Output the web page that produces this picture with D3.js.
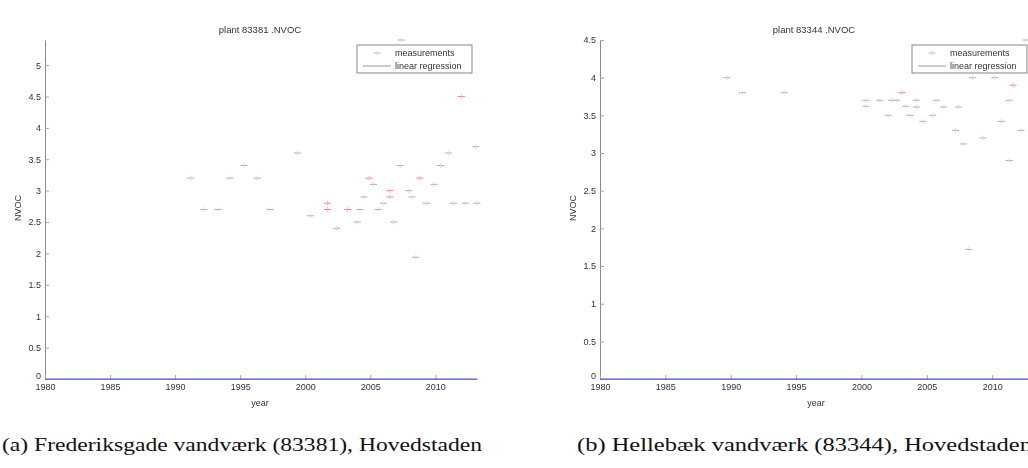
<!DOCTYPE html>
<html>
<head>
<meta charset="utf-8">
<script src="https://cdn.jsdelivr.net/npm/d3@7"></script>
<style>
  html, body { margin: 0; padding: 0; background: #fff; }
  svg { display: block; }
  .tick text { font-family: Arial, "Liberation Sans", sans-serif; }
</style>
</head>
<body>
<svg id="fig" width="1028" height="468"></svg>
<script>
// ---- Plant 83381 (Frederiksgade vandværk) ----
const plantA_years = [1991.2, 1992.2, 1993.3, 1994.2, 1995.3, 1996.3, 1997.3, 1999.4, 2000.4, 2002.4,
  2004.0, 2004.2, 2004.5, 2005.25, 2005.6, 2006.0, 2006.8, 2007.3, 2007.4, 2007.95, 2008.2, 2008.5,
  2009.3, 2009.9, 2010.4, 2011.0, 2011.4, 2012.3, 2013.1, 2013.2];
const plantA_values = [3.2, 2.7, 2.7, 3.2, 3.4, 3.2, 2.7, 3.6, 2.6, 2.4,
  2.5, 2.7, 2.9, 3.1, 2.7, 2.8, 2.5, 3.4, 5.4, 3.0, 2.9, 1.94,
  2.8, 3.1, 3.4, 3.6, 2.8, 2.8, 3.7, 2.8];
const plantA_flagYears = [2001.7, 2001.7, 2003.25, 2004.9, 2006.5, 2006.5, 2008.8, 2012.0];
const plantA_flagValues = [2.8, 2.7, 2.7, 3.2, 3.0, 2.9, 3.2, 4.5];

// ---- Plant 83344 (Hellebæk vandværk) ----
const plantB_years = [1989.7, 1990.9, 1994.1, 2000.35, 2000.35, 2001.4, 2002.05, 2002.3, 2002.7, 2003.4,
  2003.7, 2004.2, 2004.2, 2004.7, 2005.45, 2005.75, 2006.3, 2007.2, 2007.4, 2007.8, 2008.2, 2008.5,
  2009.3, 2010.2, 2010.7, 2011.3, 2011.3, 2012.2, 2012.6];
const plantB_values = [4.0, 3.8, 3.8, 3.7, 3.62, 3.7, 3.5, 3.7, 3.7, 3.62,
  3.5, 3.7, 3.61, 3.42, 3.5, 3.7, 3.61, 3.3, 3.61, 3.12, 1.72, 4.0,
  3.2, 4.0, 3.42, 3.7, 2.9, 3.3, 4.5];
const plantB_flagYears = [2003.1, 2011.6];
const plantB_flagValues = [3.8, 3.9];

// Regression lines (fitted level per plant)
const regYears = [1980, 2013.2];
const plantA_reg = [0, 0];
const plantB_reg = [0, 0];

const yearTicks = [1980, 1985, 1990, 1995, 2000, 2005, 2010];
const plantA_yTicks = [0, 0.5, 1, 1.5, 2, 2.5, 3, 3.5, 4, 4.5, 5];
const plantB_yTicks = [0, 0.5, 1, 1.5, 2, 2.5, 3, 3.5, 4, 4.5];

const titles = ["plant 83381 .NVOC", "plant 83344 .NVOC"];
const captions = ["(a) Frederiksgade vandværk (83381), Hovedstaden",
                  "(b) Hellebæk vandværk (83344), Hovedstaden"];
const legendLabels = ["measurements", "linear regression"];

const svg = d3.select("#fig");
const defs = svg.append("defs");
defs.append("filter").attr("id", "soft")
  .attr("x", "-5%").attr("y", "-5%").attr("width", "110%").attr("height", "110%")
  .append("feGaussianBlur").attr("stdDeviation", 0.45);

const sans = "Arial, 'Liberation Sans', sans-serif";

function panel(cfg) {
  const g = svg.append("g").attr("filter", "url(#soft)");
  const x = d3.scaleLinear().domain([1980, 2013.2]).range([cfg.left, cfg.right]);
  const y = d3.scaleLinear().domain([0, cfg.yMax]).range([379, 40]);

  // y axis (ticks point inward)
  const ya = g.append("g").attr("transform", `translate(${cfg.left},0)`)
    .call(d3.axisLeft(y).tickValues(cfg.yTicks).tickSize(-4).tickSizeOuter(0).tickPadding(5)
      .tickFormat(d => d3.format("")(d)));
  // x axis
  const xa = g.append("g").attr("transform", "translate(0,379)")
    .call(d3.axisBottom(x).tickValues(yearTicks).tickSize(-4).tickSizeOuter(0).tickPadding(5)
      .tickFormat(d3.format("d")));
  [ya, xa].forEach(a => {
    a.select(".domain").attr("stroke", "#8a8a8a").attr("stroke-width", 1);
    a.selectAll(".tick line").attr("stroke", "#a5a5a5");
    a.selectAll(".tick text").attr("fill", "#333").attr("font-size", 9).attr("font-family", sans);
  });
  ya.selectAll(".tick text").attr("dx", "0.1em");
  // the zero label sits just above the first year label
  ya.selectAll(".tick").filter(d => d === 0).select("text").attr("dy", "-0.05em");

  // axis labels and title
  g.append("text").attr("x", (cfg.left + cfg.right) / 2 - 1).attr("y", 406)
    .attr("text-anchor", "middle").attr("font-family", sans).attr("font-size", 9).attr("fill", "#333")
    .text("year");
  g.append("text").attr("transform", `translate(${cfg.left - 24},208) rotate(-90)`)
    .attr("text-anchor", "middle").attr("font-family", sans).attr("font-size", 9).attr("fill", "#333")
    .text("NVOC");
  g.append("text").attr("x", cfg.titleX).attr("y", 33)
    .attr("text-anchor", "middle").attr("font-family", sans).attr("font-size", 9.5).attr("fill", "#333")
    .text(cfg.title);

  // regression line
  const line = d3.line().x((d, i) => x(regYears[i])).y(d => y(d));
  g.append("path").datum(cfg.reg).attr("d", line)
    .attr("fill", "none").attr("stroke", "#5557ff").attr("stroke-width", 1.1);

  // measurement markers
  function plus(sel, color, vcolor) {
    sel.append("line").attr("x1", -3.5).attr("x2", 3.5).attr("y1", 0).attr("y2", 0)
      .attr("stroke", color).attr("stroke-width", 1);
    sel.append("line").attr("x1", 0).attr("x2", 0).attr("y1", -2.5).attr("y2", 2.5)
      .attr("stroke", vcolor).attr("stroke-width", 0.9);
  }
  const pts = cfg.years.map((yr, i) => ({ yr, v: cfg.values[i] }));
  g.append("g").selectAll("g").data(pts).join("g")
    .attr("transform", d => `translate(${x(d.yr)},${y(d.v)})`)
    .call(plus, "#acacac", "#dadada");
  const fpts = cfg.flagYears.map((yr, i) => ({ yr, v: cfg.flagValues[i] }));
  g.append("g").selectAll("g").data(fpts).join("g")
    .attr("transform", d => `translate(${x(d.yr)},${y(d.v)})`)
    .call(plus, "#f27ba2", "#f6b0c8");

  // legend
  const lg = g.append("g").attr("transform", `translate(${cfg.legendX},45)`);
  lg.append("rect").attr("width", 115).attr("height", 28)
    .attr("fill", "#fff").attr("stroke", "#7a7a7a").attr("stroke-width", 0.9);
  lg.append("g").attr("transform", "translate(20,8)").call(plus, "#b5b5b5", "#dddddd");
  lg.append("line").attr("x1", 6).attr("x2", 34).attr("y1", 21).attr("y2", 21)
    .attr("stroke", "#999").attr("stroke-width", 1);
  lg.selectAll("text.lab").data(legendLabels).join("text").attr("class", "lab")
    .attr("x", 38).attr("y", (d, i) => 11 + i * 13)
    .attr("font-family", sans).attr("font-size", 9).attr("fill", "#333").text(d => d);
}

panel({ left: 45, right: 477, yMax: 5.4, yTicks: plantA_yTicks, title: titles[0], titleX: 260,
  years: plantA_years, values: plantA_values, flagYears: plantA_flagYears, flagValues: plantA_flagValues,
  reg: plantA_reg, legendX: 357 });
panel({ left: 600, right: 1034, yMax: 4.5, yTicks: plantB_yTicks, title: titles[1], titleX: 814,
  years: plantB_years, values: plantB_values, flagYears: plantB_flagYears, flagValues: plantB_flagValues,
  reg: plantB_reg, legendX: 912 });

// sub-figure captions
const serif = "'Liberation Serif', 'DejaVu Serif', serif";
svg.append("text").attr("x", 2).attr("y", 451).attr("font-family", serif).attr("font-size", 18)
  .attr("fill", "#111").attr("textLength", 480).attr("lengthAdjust", "spacingAndGlyphs").text(captions[0]);
svg.append("text").attr("x", 577).attr("y", 451).attr("font-family", serif).attr("font-size", 18)
  .attr("fill", "#111").attr("textLength", 455).attr("lengthAdjust", "spacingAndGlyphs").text(captions[1]);
</script>
</body>
</html>
